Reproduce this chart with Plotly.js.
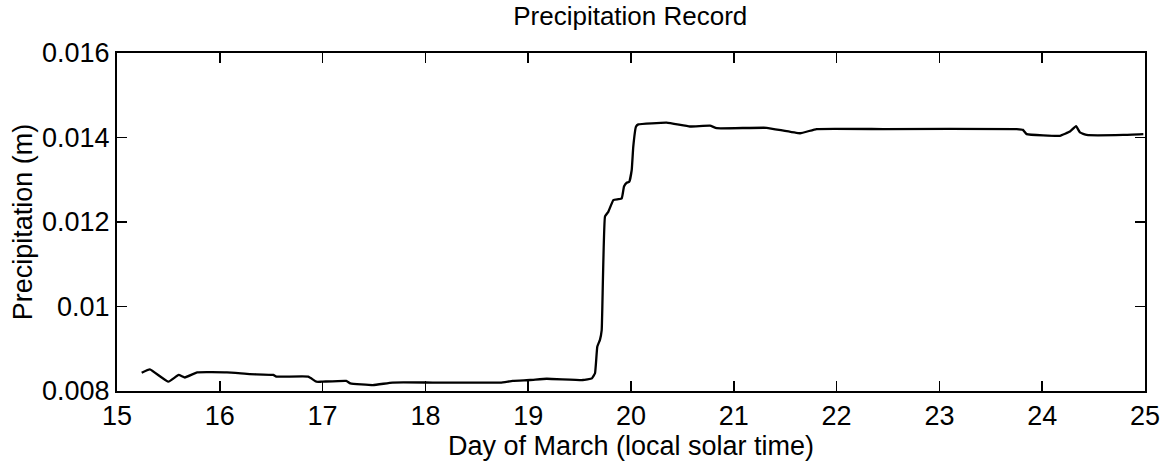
<!DOCTYPE html>
<html>
<head>
<meta charset="utf-8">
<script src="https://cdn.plot.ly/plotly-3.0.1.min.js"></script>
<style>html,body{margin:0;padding:0;background:#fff;}#chart{width:1165px;height:463px;}</style>
</head>
<body>
<div id="chart"></div>
<script>
// Day of March (local solar time)
const days = [15.24, 15.32, 15.50, 15.60, 15.66, 15.78, 16.07, 16.29, 16.52, 16.55, 16.86, 16.94, 16.99,
  17.23, 17.27, 17.49, 17.68, 18.07, 18.73, 18.85, 19.02, 19.18, 19.53, 19.62, 19.65, 19.672, 19.698,
  19.715, 19.747, 19.779, 19.828, 19.876, 19.910, 19.932, 19.958, 19.983, 20.007, 20.022, 20.049, 20.071,
  20.347, 20.574, 20.768, 20.834, 21.320, 21.644, 21.806, 22.454, 23.752, 23.813, 23.849, 24.173, 24.270,
  24.329, 24.367, 24.433, 24.789, 24.984];
// Precipitation (m)
const precip = [0.00843, 0.00851, 0.00822, 0.00838, 0.00832, 0.00844, 0.00844, 0.00840, 0.00838, 0.00834, 0.00834, 0.00822, 0.00822,
  0.00824, 0.00818, 0.00814, 0.00820, 0.00820, 0.00820, 0.00824, 0.00826, 0.00829, 0.00826, 0.00830, 0.00842, 0.00905, 0.00921,
  0.00944, 0.01213, 0.01224, 0.01252, 0.01254, 0.01256, 0.01284, 0.01293, 0.01295, 0.01323, 0.01378, 0.01426, 0.01431,
  0.01435, 0.01426, 0.01428, 0.01422, 0.01423, 0.01410, 0.01420, 0.01420, 0.01420, 0.01418, 0.01408, 0.01404, 0.01414,
  0.01427, 0.01412, 0.01406, 0.01406, 0.01408];
const xTickVals = [15, 16, 17, 18, 19, 20, 21, 22, 23, 24, 25];
const xTickText = ['15', '16', '17', '18', '19', '20', '21', '22', '23', '24', '25'];
const yTickVals = [0.008, 0.010, 0.012, 0.014, 0.016];
const yTickText = ['0.008', '0.01', '0.012', '0.014', '0.016'];

const font = 'Liberation Sans, Arial, Helvetica, sans-serif';
const trace = {
  x: days, y: precip, type: 'scatter', mode: 'lines',
  line: {color: '#000', width: 2.3, shape: 'spline', smoothing: 0.3},
  hoverinfo: 'skip'
};
const axisCommon = {
  showgrid: false, zeroline: false, showline: true, linecolor: '#000', linewidth: 2,
  mirror: 'ticks', ticks: 'inside', ticklen: 10, tickwidth: 1.5, tickcolor: '#000',
  tickfont: {family: font, size: 27, color: '#000'}
};
const layout = {
  width: 1165, height: 463,
  margin: {l: 117, r: 20, t: 53, b: 72, pad: 0},
  paper_bgcolor: '#fff', plot_bgcolor: '#fff',
  showlegend: false,
  title: {text: 'Precipitation Record', font: {family: font, size: 26, color: '#000'},
          x: 0.541, xanchor: 'center', y: 0.985, yanchor: 'top'},
  xaxis: Object.assign({}, axisCommon, {
    range: [15, 25], tickvals: xTickVals, ticktext: xTickText,
    title: {text: 'Day of March (local solar time)', font: {family: font, size: 27, color: '#000'}, standoff: 0}
  }),
  yaxis: Object.assign({}, axisCommon, {
    range: [0.008, 0.016], tickvals: yTickVals, ticktext: yTickText,
    title: {text: 'Precipitation (m)', font: {family: font, size: 27, color: '#000'}, standoff: 2}
  })
};
Plotly.newPlot('chart', [trace], layout, {displayModeBar: false, staticPlot: true});
</script>
</body>
</html>
